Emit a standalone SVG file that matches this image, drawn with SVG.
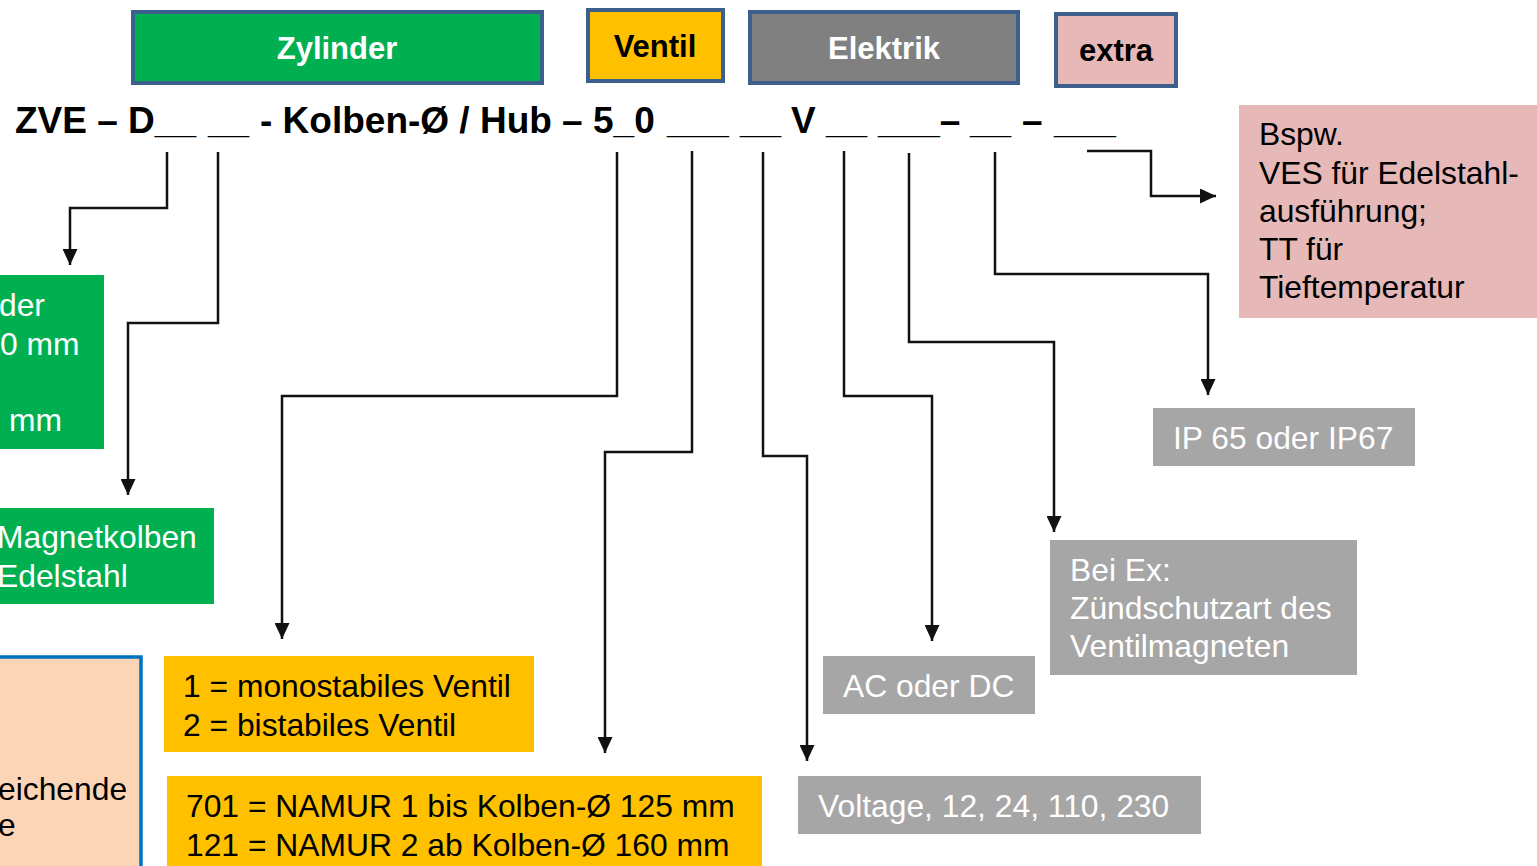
<svg xmlns="http://www.w3.org/2000/svg" width="1537" height="866" viewBox="0 0 1537 866">
<style>
.hdr{font-family:"Liberation Sans",Arial,sans-serif;font-weight:bold;font-size:31px;text-anchor:middle}
.code{font-family:"Liberation Sans",Arial,sans-serif;font-weight:bold;font-size:37px;fill:#000}
.t{font-family:"Liberation Sans",Arial,sans-serif;font-size:31.8px}
.w{fill:#fff}
.k{fill:#000}
.hbox{stroke:#3C5F8C;stroke-width:4}
.con{fill:none;stroke:#111;stroke-width:2.5}
</style>
<defs>
<marker id="ah" markerUnits="userSpaceOnUse" markerWidth="16" markerHeight="15" refX="16" refY="7.5" orient="auto">
<path d="M0,0 L16,7.5 L0,15 z" fill="#111"/>
</marker>
</defs>
<rect width="1537" height="866" fill="#fff"/>

<g id="hdr-zylinder"><rect class="hbox" x="133" y="12" width="409" height="71" fill="#00B050"/><text class="hdr w" x="337" y="59">Zylinder</text></g>
<g id="hdr-ventil"><rect class="hbox" x="588" y="10" width="135" height="71" fill="#FFC000"/><text class="hdr k" x="655" y="57">Ventil</text></g>
<g id="hdr-elektrik"><rect class="hbox" x="750" y="12" width="268" height="71" fill="#808080"/><text class="hdr w" x="884" y="59">Elektrik</text></g>
<g id="hdr-extra"><rect class="hbox" x="1056" y="14" width="120" height="72" fill="#E6B8B7"/><text class="hdr k" x="1116" y="61">extra</text></g>

<g id="code">
<text class="code" y="133"><tspan x="15">ZVE – D__</tspan><tspan x="208">__</tspan><tspan x="260">- Kolben-Ø / Hub – 5_0</tspan><tspan x="667">___</tspan><tspan x="740">__</tspan><tspan x="791">V</tspan><tspan x="826">__</tspan><tspan x="878">___–</tspan><tspan x="970">__</tspan><tspan x="1022">–</tspan><tspan x="1054">___</tspan></text>
</g>

<g id="connectors">
<polyline class="con" points="167,152 167,208 70,208 70,265" marker-end="url(#ah)"/>
<polyline class="con" points="218,152 218,323 128,323 128,495" marker-end="url(#ah)"/>
<polyline class="con" points="617,152 617,396 282,396 282,639" marker-end="url(#ah)"/>
<polyline class="con" points="692,151 692,452 605,452 605,753" marker-end="url(#ah)"/>
<polyline class="con" points="763,152 763,456 807,456 807,761" marker-end="url(#ah)"/>
<polyline class="con" points="844,151 844,396 932,396 932,641" marker-end="url(#ah)"/>
<polyline class="con" points="909,153 909,342 1054,342 1054,532" marker-end="url(#ah)"/>
<polyline class="con" points="995,152 995,274 1208,274 1208,395" marker-end="url(#ah)"/>
<polyline class="con" points="1087,151 1151,151 1151,196 1216,196" marker-end="url(#ah)"/>
</g>

<g id="node-zyl-size"><rect x="-5" y="275" width="109" height="174" fill="#00B050"/>
<text class="t w"><tspan x="-1" y="316">der</tspan><tspan x="0" y="355">0 mm</tspan><tspan x="9" y="431">mm</tspan></text></g>
<g id="node-magnet"><rect x="-5" y="508" width="219" height="96" fill="#00B050"/>
<text class="t w"><tspan x="-3" y="548">Magnetkolben</tspan><tspan x="-3" y="587">Edelstahl</tspan></text></g>
<g id="node-peach"><rect x="-5" y="657" width="146" height="215" fill="#FBD5B5" stroke="#0070C0" stroke-width="3.5"/>
<text class="t k"><tspan x="-2" y="800">eichende</tspan><tspan x="-2" y="836">e</tspan></text></g>

<g id="node-ventiltyp"><rect x="164" y="656" width="370" height="96" fill="#FFC000"/>
<text class="t k"><tspan x="183" y="697">1 = monostabiles Ventil</tspan><tspan x="183" y="736">2 = bistabiles Ventil</tspan></text></g>
<g id="node-namur"><rect x="167" y="776" width="595" height="95" fill="#FFC000"/>
<text class="t k"><tspan x="186" y="817">701 = NAMUR 1 bis Kolben-Ø 125 mm</tspan><tspan x="186" y="856">121 = NAMUR 2 ab Kolben-Ø 160 mm</tspan></text></g>

<g id="node-voltage"><rect x="798" y="776" width="403" height="58" fill="#A6A6A6"/><text class="t w" x="818" y="817">Voltage, 12, 24, 110, 230</text></g>
<g id="node-acdc"><rect x="823" y="656" width="212" height="58" fill="#A6A6A6"/><text class="t w" x="843" y="697">AC oder DC</text></g>
<g id="node-ex"><rect x="1050" y="540" width="307" height="135" fill="#A6A6A6"/>
<text class="t w"><tspan x="1070" y="581">Bei Ex:</tspan><tspan x="1070" y="619">Zündschutzart des</tspan><tspan x="1070" y="657">Ventilmagneten</tspan></text></g>
<g id="node-ip"><rect x="1153" y="408" width="262" height="58" fill="#A6A6A6"/><text class="t w" x="1173" y="449">IP 65 oder IP67</text></g>
<g id="node-extra"><rect x="1239" y="105" width="305" height="213" fill="#E6B8B7"/>
<text class="t k"><tspan x="1259" y="145">Bspw.</tspan><tspan x="1259" y="184">VES für Edelstahl-</tspan><tspan x="1259" y="222">ausführung;</tspan><tspan x="1259" y="260">TT für</tspan><tspan x="1259" y="298">Tieftemperatur</tspan></text></g>
</svg>
